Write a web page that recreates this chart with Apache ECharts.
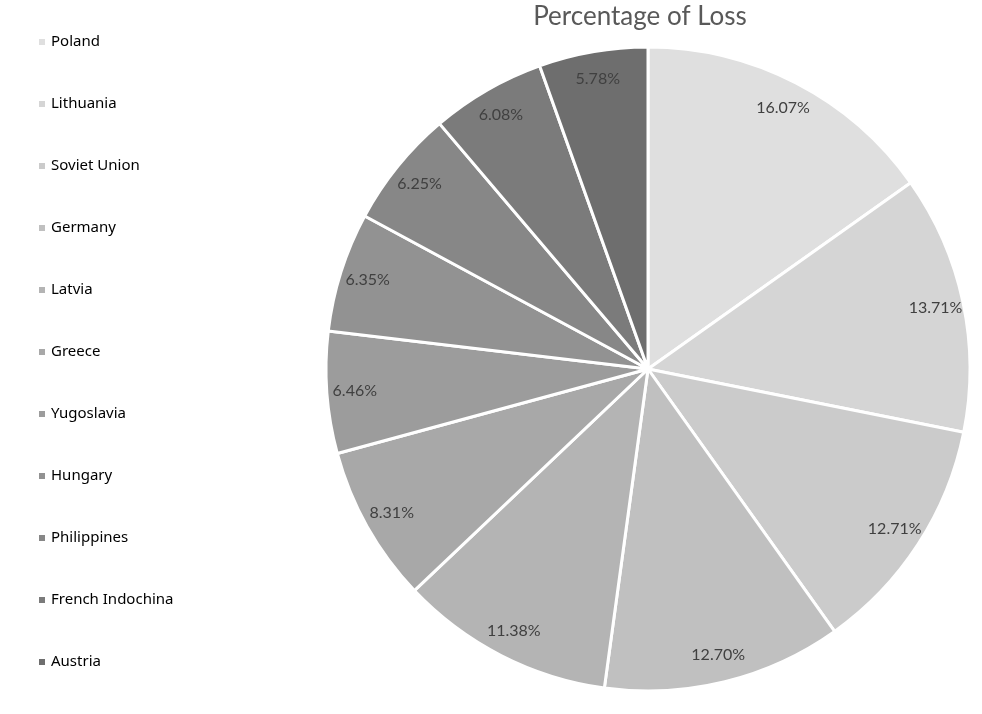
<!DOCTYPE html>
<html>
<head>
<meta charset="utf-8">
<script src="https://cdn.jsdelivr.net/npm/echarts@6/dist/echarts.min.js"></script>
<style>html,body{margin:0;padding:0;background:#fff}#c{width:982px;height:714px}</style>
</head>
<body>
<div id="c"></div>
<script>
const categories = ['Poland','Lithuania','Soviet Union','Germany','Latvia','Greece','Yugoslavia','Hungary','Philippines','French Indochina','Austria'];
const values = [16.07, 13.71, 12.71, 12.70, 11.38, 8.31, 6.46, 6.35, 6.25, 6.08, 5.78];
const colors = ['#dfdfdf','#d5d5d5','#cbcbcb','#c0c0c0','#b4b4b4','#a8a8a8','#9c9c9c','#929292','#878787','#7b7b7b','#6e6e6e'];

const data = categories.map((n, i) => ({ name: n, value: values[i], itemStyle: { color: colors[i] } }));
const labelData = categories.map((n, i) => ({ name: n, value: values[i] }));

const chart = echarts.init(document.getElementById('c'));
chart.setOption({
  animation: false,
  title: {
    text: 'Percentage of Loss',
    left: 640, top: 4, textAlign: 'center', padding: 0,
    textStyle: { fontFamily: 'Lato', fontSize: 26, fontWeight: 'normal', color: '#595959' }
  },
  legend: {
    orient: 'vertical',
    left: 37, top: 34, padding: 0,
    icon: 'rect', itemWidth: 8, itemHeight: 8, itemGap: 46,
    data: categories,
    textStyle: { fontFamily: 'Noto Sans', fontSize: 15, lineHeight: 16, color: '#000' }
  },
  series: [
    {
      type: 'pie',
      center: [648, 369],
      radius: [0, 322],
      startAngle: 90,
      clockwise: true,
      data: data,
      itemStyle: { borderColor: '#fff', borderWidth: 3 },
      label: { show: false },
      labelLine: { show: false },
      emphasis: { disabled: true }
    },
    {
      type: 'pie',
      center: [648, 369],
      radius: [260, 322],
      startAngle: 90,
      clockwise: true,
      silent: true,
      data: labelData,
      itemStyle: { color: 'rgba(0,0,0,0)', borderWidth: 0 },
      label: {
        show: true, position: 'inside',
        formatter: p => p.value.toFixed(2) + '%',
        fontFamily: 'Lato', fontSize: 16, color: '#404040'
      },
      labelLine: { show: false },
      emphasis: { disabled: true }
    }
  ]
});
</script>
</body>
</html>
